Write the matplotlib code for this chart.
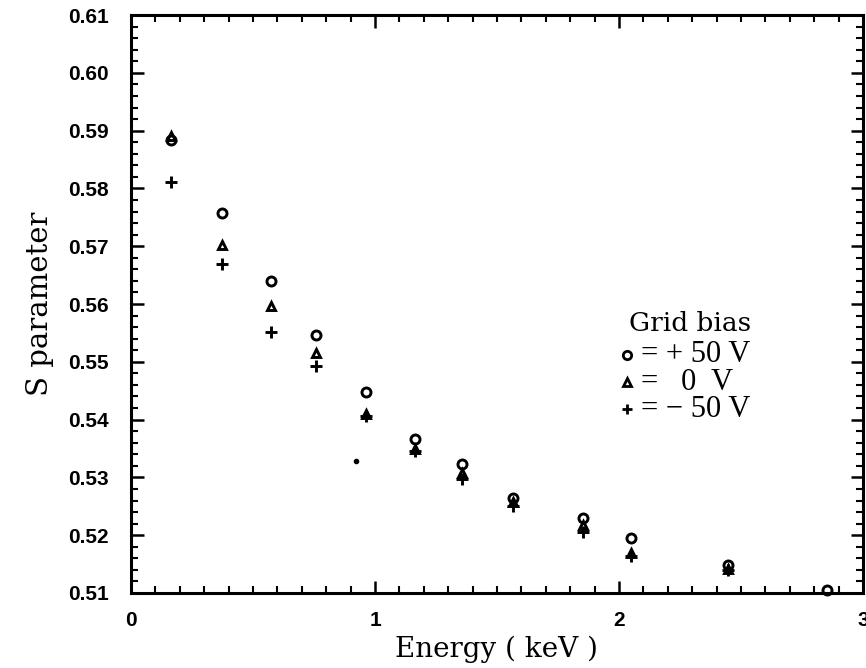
import matplotlib
matplotlib.use("Agg")
import matplotlib.pyplot as plt
from matplotlib.ticker import MultipleLocator, FixedLocator

# Positron beam energy (keV) for each measurement group
energy = [0.163, 0.371, 0.573, 0.757, 0.962, 1.163, 1.358, 1.565, 1.851, 2.050, 2.448]
energy_pos = energy + [2.854]

# S parameter for the three grid bias settings
s_pos50 = [0.5884, 0.5758, 0.5640, 0.5546, 0.5448, 0.5366, 0.5323, 0.5264, 0.5229, 0.5195, 0.5148, 0.5106]
s_zero = [0.5891, 0.5702, 0.5597, 0.5516, 0.5409, 0.5349, 0.5307, 0.5257, 0.5217, 0.5170, 0.5141]
s_neg50 = [0.5811, 0.5670, 0.5552, 0.5493, 0.5406, 0.5346, 0.5298, 0.5251, 0.5206, 0.5164, 0.5139]

# isolated single point
dot_e = [0.921]
dot_s = [0.5328]

x_ticks = [0, 1, 2, 3]
y_ticks = [0.51, 0.52, 0.53, 0.54, 0.55, 0.56, 0.57, 0.58, 0.59, 0.60, 0.61]
y_ticklabels = ["0.51", "0.52", "0.53", "0.54", "0.55", "0.56", "0.57", "0.58", "0.59", "0.60", "0.61"]

fig = plt.figure(figsize=(8.66, 6.68), dpi=100)
ax = fig.add_axes([0.1513, 0.1123, 0.8452, 0.8652])

mk = dict(linestyle="none", color="black", markerfacecolor="none",
          markeredgewidth=2.1, clip_on=False, zorder=3)
ax.plot(energy_pos, s_pos50, marker="o", markersize=6.5, **mk)
ax.plot(energy, s_zero, marker="^", markersize=6.2, **mk)
ax.plot(energy, s_neg50, marker="+", markersize=8.5, **mk)
ax.plot(dot_e, dot_s, marker="o", markersize=3, linestyle="none", color="black")

ax.set_xlim(0, 3)
ax.set_ylim(0.51, 0.61)
ax.xaxis.set_major_locator(FixedLocator(x_ticks))
ax.xaxis.set_minor_locator(MultipleLocator(0.1))
ax.yaxis.set_major_locator(FixedLocator(y_ticks))
ax.yaxis.set_minor_locator(MultipleLocator(0.002))
ax.set_yticklabels(y_ticklabels)
ax.set_xticklabels([str(v) for v in x_ticks])

for s in ax.spines.values():
    s.set_linewidth(2.2)

ax.tick_params(which="both", direction="in", top=True, right=True, color="black")
ax.tick_params(which="major", length=9, width=1.8)
ax.tick_params(which="minor", length=5, width=1.5)
ax.tick_params(axis="y", which="major", pad=16)
ax.tick_params(axis="x", which="major", pad=13)

for lab in ax.get_xticklabels() + ax.get_yticklabels():
    lab.set_fontfamily("Liberation Sans")
    lab.set_fontweight("bold")
    lab.set_fontsize(15)

ax.set_xlabel("Energy ( keV )", labelpad=4, family="DejaVu Serif", size=20)
ax.set_ylabel("S parameter", labelpad=10, family="DejaVu Serif", size=21)

# legend block
ax.text(0.680, 0.466, "Grid bias", transform=ax.transAxes, ha="left", va="center",
        family="DejaVu Serif", size=19)
rows = [("o", 6.0, "= + 50 V"), ("^", 5.8, "=   0  V"), ("+", 7.5, "= \u2212 50 V")]
for i, (m, ms, txt) in enumerate(rows):
    yy = 0.412 - i * 0.047
    ax.plot([0.678], [yy], marker=m, markersize=ms, transform=ax.transAxes,
            linestyle="none", color="black", markerfacecolor="none", markeredgewidth=2.0)
    ax.text(0.697, yy, txt, transform=ax.transAxes, ha="left", va="center",
            family="Liberation Serif", size=22)

fig.savefig("out.png", dpi=100)
